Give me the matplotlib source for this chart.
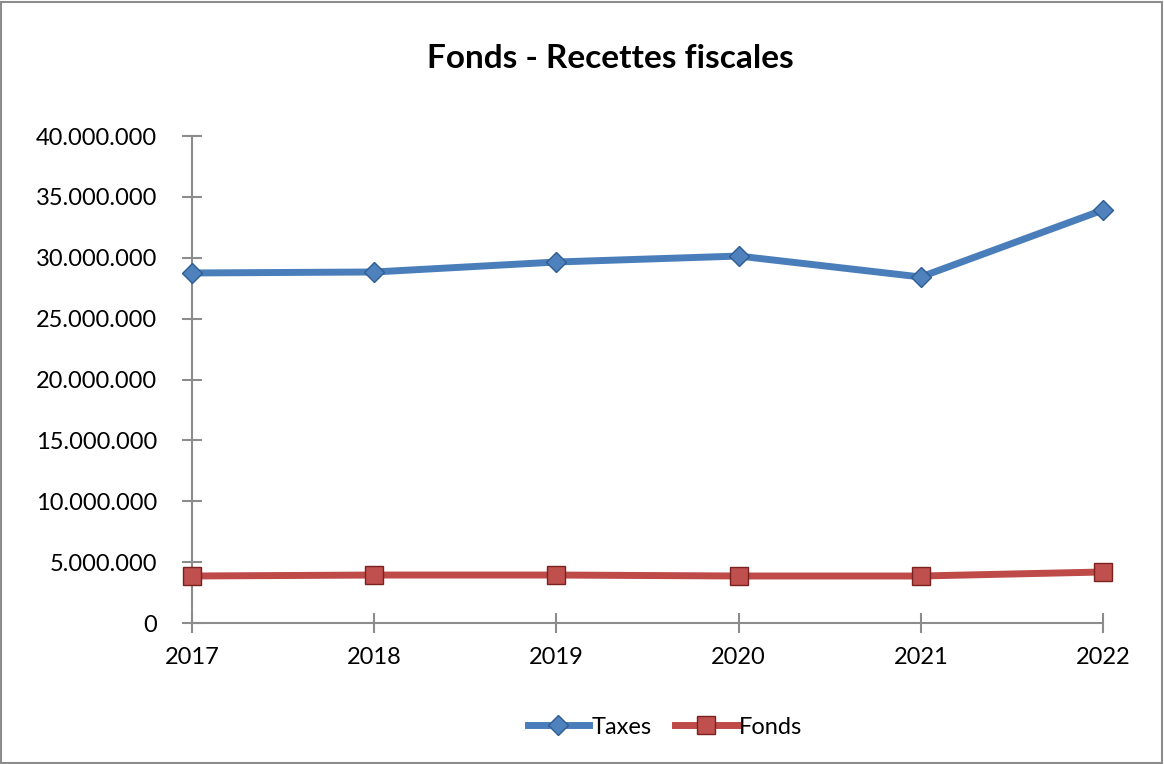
import matplotlib.pyplot as plt
from matplotlib.ticker import FuncFormatter
from matplotlib.patches import Rectangle

plt.rcParams['font.family'] = ['Lato', 'DejaVu Sans']

years = ["2017", "2018", "2019", "2020", "2021", "2022"]
taxes = [28750000, 28830000, 29650000, 30140000, 28420000, 33920000]
fonds = [3860000, 3940000, 3940000, 3860000, 3860000, 4190000]

fig = plt.figure(figsize=(11.64, 7.64), dpi=100)
ax = fig.add_axes([192 / 1164, 1 - 623 / 764, (1103 - 192) / 1164, (623 - 136) / 764])

pos = list(range(len(years)))
ax.plot(pos, taxes, color="#4a7ebb", lw=5, marker="D", ms=10,
        mfc="#4f81bd", mec="#2c5d93", mew=1, label="Taxes", zorder=3, clip_on=False)
ax.plot(pos, fonds, color="#be4b48", lw=5, marker="s", ms=13,
        mfc="#c0504d", mec="#7a2220", mew=1, label="Fonds", zorder=3, clip_on=False)

ax.set_xlim(0, 5)
ax.set_ylim(0, 40000000)
ax.set_yticks(range(0, 40000001, 5000000))
ax.set_xticks(pos)
ax.set_xticklabels(years)
ax.yaxis.set_major_formatter(FuncFormatter(lambda v, p: f"{int(v):,}".replace(",", ".")))

for s in ["top", "right"]:
    ax.spines[s].set_visible(False)
for s in ["left", "bottom"]:
    ax.spines[s].set_color("#8c8c8c")
    ax.spines[s].set_linewidth(1.5)
ax.tick_params(direction="inout", length=14, width=1.5, color="#8c8c8c",
               labelsize=17)
ax.tick_params(axis="y", pad=18)
ax.tick_params(axis="x", pad=10)

fig.text(610 / 1164, 1 - 58 / 764, "Fonds - Recettes fiscales", ha="center",
         va="center", fontsize=24, fontweight="bold")

fig.legend(loc="center", bbox_to_anchor=(665 / 1164, 1 - 727 / 764), ncol=2,
           frameon=False, fontsize=17, handlelength=2.6, handletextpad=0.1,
           columnspacing=1.0)

fig.patches.append(Rectangle((0.001, 0.001), 0.997, 0.997, transform=fig.transFigure,
                             fill=False, edgecolor="#8c8c8c", lw=1.5))

fig.savefig("out.png", dpi=100)
